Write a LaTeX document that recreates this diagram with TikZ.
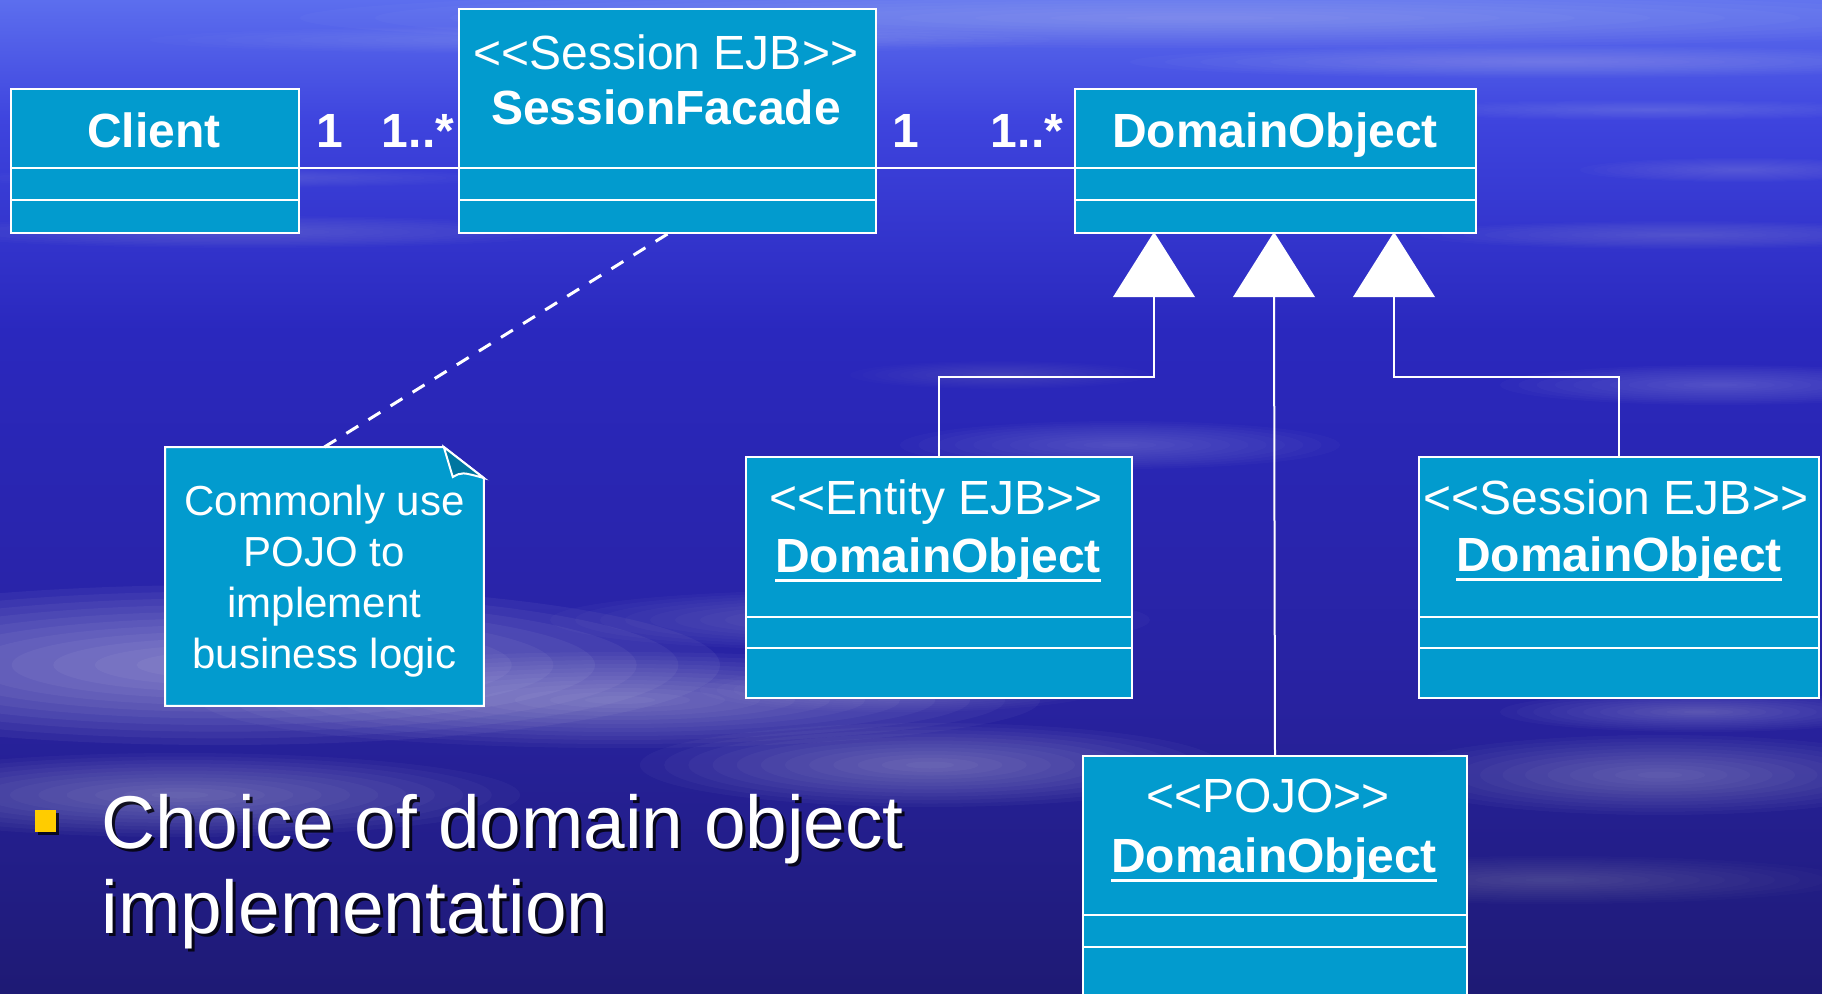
\documentclass[tikz,border=0pt]{standalone}
\usepackage{fontspec}
\setmainfont{Liberation Sans}
\usetikzlibrary{calc}

\definecolor{umlfill}{RGB}{2,155,206}
\definecolor{folddark}{RGB}{0,118,160}
\definecolor{bullety}{RGB}{255,204,0}
\definecolor{bgA}{RGB}{92,110,238}
\definecolor{bgB}{RGB}{62,68,222}
\definecolor{bgC}{RGB}{42,40,190}
\definecolor{bgD}{RGB}{40,34,160}
\definecolor{bgE}{RGB}{30,26,116}

% soft cloud streak: centre x, centre y, x radius, y radius, peak opacity
\newcommand\softcloud[5]{%
  \foreach \k in {0,...,11}{%
    \fill[white, opacity=#5/12] (#1,#2) ellipse ({#3*(1-\k/12)} and {#4*(1-\k/12)});
  }%
}

% underlined class names
\newcommand\clsul[1]{\setbox0\hbox{#1}\rlap{\rule[-4.8pt]{\wd0}{1.5pt}}\box0}

\begin{document}
\begin{tikzpicture}[x=0.5pt, y=-0.5pt,
  cls/.style={draw=white, line width=1pt, fill=umlfill, rectangle, inner sep=0pt, anchor=north west},
  conn/.style={draw=white, line width=1pt},
  stereo/.style={text=white, font=\fontsize{24}{28}\selectfont, anchor=base, inner sep=0pt},
  cname/.style={text=white, font=\fontsize{24}{28}\selectfont\bfseries, anchor=base, inner sep=0pt},
  bullettext/.style={anchor=base west, inner sep=0pt, font=\fontsize{37.4}{42}\selectfont},
  gentri/.style={fill=white}]

\useasboundingbox (0,0) rectangle (1822,993);

% sky background
\shade[top color=bgA, bottom color=bgB] (0,0) rectangle (1822,121);
\shade[top color=bgB, bottom color=bgC] (0,120) rectangle (1822,331);
\shade[top color=bgC, bottom color=bgD] (0,330) rectangle (1822,701);
\shade[top color=bgD, bottom color=bgE] (0,700) rectangle (1822,993);

% cloud streaks
\softcloud{1200}{18}{900}{30}{0.30}
\softcloud{1550}{62}{420}{16}{0.25}
\softcloud{600}{40}{450}{14}{0.18}
\softcloud{1650}{110}{250}{10}{0.18}
\softcloud{250}{232}{320}{16}{0.18}
\softcloud{230}{178}{260}{10}{0.15}
\softcloud{1680}{235}{260}{14}{0.20}
\softcloud{1740}{170}{160}{12}{0.18}
\softcloud{1720}{385}{220}{20}{0.25}
\softcloud{1120}{445}{220}{24}{0.22}
\softcloud{1000}{375}{150}{14}{0.15}
\softcloud{220}{665}{500}{80}{0.58}
\softcloud{620}{700}{420}{48}{0.42}
\softcloud{930}{765}{290}{42}{0.40}
\softcloud{180}{795}{340}{42}{0.40}
\softcloud{1660}{775}{270}{40}{0.34}
\softcloud{1700}{712}{200}{20}{0.28}
\softcloud{1550}{880}{300}{24}{0.20}
\softcloud{850}{620}{300}{30}{0.28}
\softcloud{900}{690}{200}{22}{0.22}

% class boxes
\node[cls, minimum width=144pt, minimum height=72pt] (client) at (10,88) {};
\node[cls, minimum width=208.5pt, minimum height=112pt] (sf) at (458,8) {};
\node[cls, minimum width=200.5pt, minimum height=72pt] (do) at (1074,88) {};
\node[cls, minimum width=193pt, minimum height=120.5pt] (entity) at (745,456) {};
\node[cls, minimum width=200pt, minimum height=120.5pt] (sess) at (1418,456) {};
\node[cls, minimum width=192pt, minimum height=125pt] (pojo) at (1082,755) {};

% compartment dividers
\foreach \b/\ya/\yb in {client/168/200, sf/168/200, do/168/200, entity/617/648, sess/617/648, pojo/915/947}{
  \draw[conn] (\b.west |- 0,\ya) -- (\b.east |- 0,\ya);
  \draw[conn] (\b.west |- 0,\yb) -- (\b.east |- 0,\yb);
}

% class texts
\node[cname] (clientname) at (154,147) {Client};
\node[stereo] (sfst) at (666,69) {<{}<Session EJB>{}>};
\node[cname] (sfname) at (666,124) {SessionFacade};
\node[cname] (doname) at (1275,147) {DomainObject};
\node[stereo] (entst) at (936,514) {<{}<Entity EJB>{}>};
\node[cname] (entname) at (938,572) {\clsul{DomainObject}};
\node[stereo] (sessst) at (1616,514) {<{}<Session EJB>{}>};
\node[cname] (sessname) at (1619,571) {\clsul{DomainObject}};
\node[stereo] (pojost) at (1268,812) {<{}<POJO>{}>};
\node[cname] (pojoname) at (1274,872) {\clsul{DomainObject}};

% associations and multiplicities
\draw[conn] (client.east |- 0,168) -- (sf.west |- 0,168);
\draw[conn] (sf.east |- 0,168) -- (do.west |- 0,168);
\node[cname] (m1) at (330,147) {1};
\node[cname] (m2) at (418,147) {1..*};
\node[cname] (m3) at (906,147) {1};
\node[cname] (m4) at (1027,147) {1..*};

% generalization arrowheads
\coordinate (t1) at (1154,232);
\coordinate (t2) at (1274,232);
\coordinate (t3) at (1394,232);
\foreach \t in {t1,t2,t3}{
  \fill[gentri] (\t) -- ++(-41,65) -- ++(82,0) -- cycle;
}
\coordinate (b1) at ($(t1)+(0,65)$);
\coordinate (b2) at ($(t2)+(0,65)$);
\coordinate (b3) at ($(t3)+(0,65)$);
\draw[conn] (b1) -- ++(0,80) -| (entity.north);
\draw[conn] (b2) -- (pojo.north);
\draw[conn] (b3) -- ++(0,80) -| (sess.north);

% note with folded corner
\node[inner sep=0pt, minimum width=159pt, minimum height=129pt, anchor=north west] (note) at (165,447) {};
\filldraw[fill=umlfill, draw=white, line width=1pt]
  (note.north west) -- ([xshift=-20pt]note.north east) -- ([yshift=-15.5pt]note.north east)
  -- (note.south east) -- (note.south west) -- cycle;
\filldraw[fill=folddark, draw=white, line width=1pt]
  ([xshift=-20pt]note.north east) -- ([xshift=-15.5pt, yshift=-15pt]note.north east)
  .. controls ([xshift=-11pt, yshift=-12.5pt]note.north east) .. ([yshift=-15.5pt]note.north east) -- cycle;
\node[text=white, font=\fontsize{21}{25.5}\selectfont, align=center, inner sep=0pt] (notetxt)
  at ($(note.center)+(0,5)$) {Commonly use\\POJO to\\implement\\business logic};
\draw[white, line width=1.5pt, dash pattern=on 7pt off 6pt] (sf.south) -- (note.north);

% bullet text with drop shadow
\fill[black, opacity=0.75] (38,813) rectangle (59,835);
\fill[bullety] (35,810) rectangle (56,832);
\node[bullettext, text=black, opacity=0.8] (sh1) at (104,851) {Choice of domain object};
\node[bullettext, text=black, opacity=0.8] (sh2) at (104,936) {implementation};
\node[bullettext, text=white] (bt1) at (101,848) {Choice of domain object};
\node[bullettext, text=white] (bt2) at (101,933) {implementation};

\end{tikzpicture}
\end{document}
